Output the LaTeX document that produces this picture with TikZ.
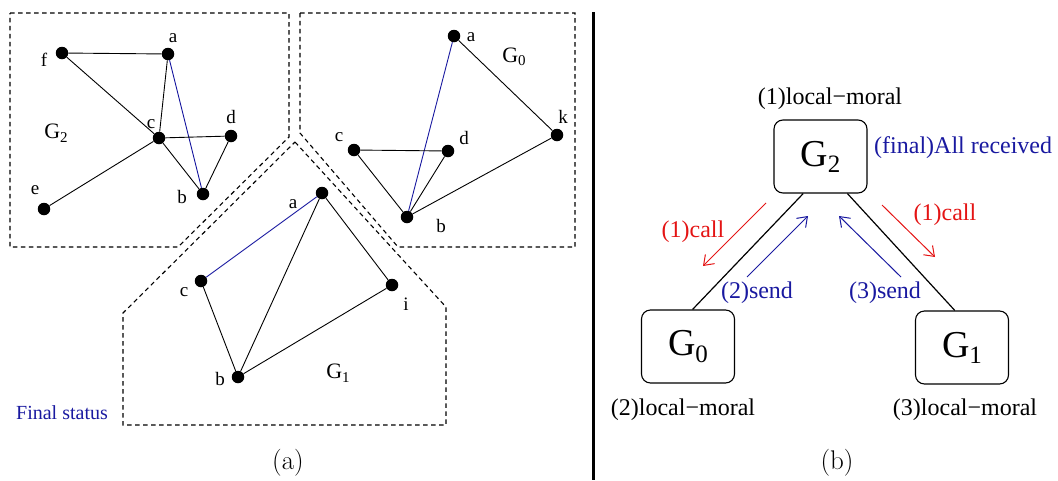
\documentclass[tikz,border=0pt]{standalone}
\usepackage{fontspec}
\newfontfamily\tms{Liberation Serif}
\usetikzlibrary{arrows.meta}
\definecolor{myblue}{RGB}{25,25,160}
\definecolor{myred}{RGB}{228,20,20}
\newcommand\Gsub[2]{G\raisebox{-0.16em}{\fontsize{#1}{#1}\selectfont #2}}
\begin{document}
\begin{tikzpicture}[x=1pt,y=-1pt,
  vtx/.style={circle,fill=black,inner sep=0pt,minimum size=12.5pt},
  lbl/.style={font=\tms\fontsize{19}{19}\selectfont,inner sep=0pt},
  glbl/.style={font=\tms\fontsize{22}{22}\selectfont,inner sep=0pt},
  gedge/.style={line width=0.9pt},
  bedge/.style={line width=0.9pt,draw=myblue},
  region/.style={line width=1.1pt,dash pattern=on 4.5pt off 3.5pt},
  gbox/.style={draw,rounded corners=9pt,line width=1.1pt,minimum width=93pt,minimum height=73pt,inner sep=0pt,font=\tms\fontsize{38}{38}\selectfont},
  txt/.style={font=\tms\fontsize{24}{24}\selectfont,inner sep=0pt},
  captxt/.style={font=\fontsize{27}{27}\selectfont,inner sep=0pt},
  link/.style={line width=1.2pt},
  callarr/.style={line width=1pt,draw=myred,-{Straight Barb[length=9pt,width=13pt]}},
  sendarr/.style={line width=1pt,draw=myblue,-{Straight Barb[length=9pt,width=13pt]}}
]
\useasboundingbox (0,0) rectangle (1058,480);

% ---------- (a) regions ----------
\draw[region] (10,13) -- (289,13) -- (289,137) -- (178,247) -- (10,247) -- cycle;
\draw[region] (300,13) -- (575,13) -- (575,247) -- (398,247) -- (300,133) -- cycle;
\draw[region] (295,142) -- (446,307) -- (446,425) -- (123,425) -- (123,313) -- cycle;

% ---------- G2 graph ----------
\node[vtx] (g2f) at (62,53) {};
\node[vtx] (g2a) at (168,54) {};
\node[vtx] (g2c) at (159,138) {};
\node[vtx] (g2d) at (231,136) {};
\node[vtx] (g2b) at (203,194) {};
\node[vtx] (g2e) at (44,209) {};
\draw[gedge] (g2f) -- (g2a);
\draw[gedge] (g2f) -- (g2c);
\draw[gedge] (g2a) -- (g2c);
\draw[bedge] (g2a) -- (g2b);
\draw[gedge] (g2c) -- (g2d);
\draw[gedge] (g2c) -- (g2b);
\draw[gedge] (g2d) -- (g2b);
\draw[gedge] (g2c) -- (g2e);
\node[lbl] (g2fl) at (44,60) {f};
\node[lbl] (g2al) at (173,38) {a};
\node[lbl] (g2cl) at (151,124) {c};
\node[lbl] (g2dl) at (231,117) {d};
\node[lbl] (g2bl) at (182,197) {b};
\node[lbl] (g2el) at (35,190) {e};
\node[glbl] (g2name) at (56,133) {\Gsub{15}{2}};

% ---------- G0 graph ----------
\node[vtx] (g0a) at (454,36) {};
\node[vtx] (g0k) at (557,135) {};
\node[vtx] (g0c) at (354,150) {};
\node[vtx] (g0d) at (448,151) {};
\node[vtx] (g0b) at (407,217) {};
\draw[bedge] (g0a) -- (g0b);
\draw[gedge] (g0a) -- (g0k);
\draw[gedge] (g0k) -- (g0b);
\draw[gedge] (g0c) -- (g0d);
\draw[gedge] (g0c) -- (g0b);
\draw[gedge] (g0d) -- (g0b);
\node[lbl] (g0al) at (471,37) {a};
\node[lbl] (g0kl) at (563,117) {k};
\node[lbl] (g0cl) at (339,137) {c};
\node[lbl] (g0dl) at (464,138) {d};
\node[lbl] (g0bl) at (441,226) {b};
\node[glbl] (g0name) at (514,57) {\Gsub{15}{0}};

% ---------- G1 graph ----------
\node[vtx] (g1a) at (322,193) {};
\node[vtx] (g1c) at (201,281) {};
\node[vtx] (g1i) at (392,285) {};
\node[vtx] (g1b) at (238,377) {};
\draw[bedge] (g1a) -- (g1c);
\draw[gedge] (g1a) -- (g1b);
\draw[gedge] (g1a) -- (g1i);
\draw[gedge] (g1c) -- (g1b);
\draw[gedge] (g1b) -- (g1i);
\node[lbl] (g1al) at (293,204) {a};
\node[lbl] (g1cl) at (184,292) {c};
\node[lbl] (g1il) at (406,304) {i};
\node[lbl] (g1bl) at (220,379) {b};
\node[glbl] (g1name) at (338,373) {\Gsub{15}{1}};

\node[font=\tms\fontsize{20}{20}\selectfont,text=myblue,inner sep=0pt] (final) at (62,413) {Final status};
\node[captxt] (capa) at (288,463) {(a)};

% ---------- separator ----------
\draw[line width=3pt] (593,12) -- (593,480);

% ---------- (b) ----------
\node[gbox] (B2) at (820.5,156.5) {\Gsub{25}{2}};
\node[gbox] (B0) at (688,346.5) {\Gsub{25}{0}};
\node[gbox] (B1) at (962,347.5) {\Gsub{25}{1}};
\draw[link] (B2.245) -- (B0.83);
\draw[link] (B2.306) -- (B1.101);

\node[txt] (lm1) at (830,99) {(1)local−moral};
\node[txt,text=myblue,anchor=west] (allrec) at (874,148) {(final)All received};
\node[txt] (lm2) at (683,410) {(2)local−moral};
\node[txt] (lm3) at (965,410) {(3)local−moral};

\coordinate (rl1) at (766,203); \coordinate (rl2) at (703,266);
\coordinate (bl1) at (747,277); \coordinate (bl2) at (808,216);
\coordinate (br1) at (901,277); \coordinate (br2) at (839,216);
\coordinate (rr1) at (882,205); \coordinate (rr2) at (935,257);
\draw[callarr] (rl1) -- (rl2);
\draw[sendarr] (bl1) -- (bl2);
\draw[sendarr] (br1) -- (br2);
\draw[callarr] (rr1) -- (rr2);
\node[txt,text=myred] (call1) at (693,232) {(1)call};
\node[txt,text=myred] (call2) at (945,215) {(1)call};
\node[txt,text=myblue] (send2) at (757,293) {(2)send};
\node[txt,text=myblue] (send3) at (885,293) {(3)send};

\node[captxt] (capb) at (837,463) {(b)};
\end{tikzpicture}
\end{document}
